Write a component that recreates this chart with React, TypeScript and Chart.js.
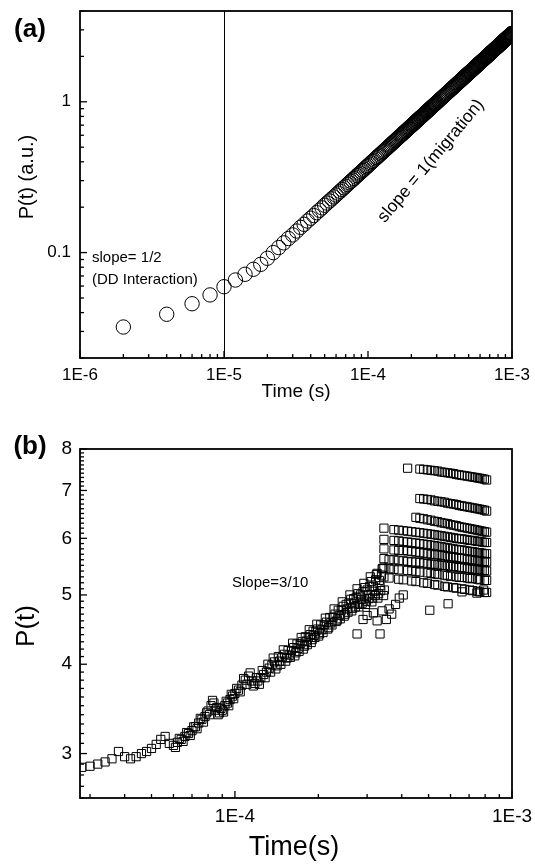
import React, { useEffect, useRef } from 'react';
import { Chart, registerables } from 'chart.js';

Chart.register(...registerables);

const FAMILY = "'Liberation Sans', Arial, Helvetica, sans-serif";

// ---------------- Panel (a) data: [time (µs), P(t) (a.u.)] ----------------
const panelA: [number, number][] = [
  [2, 0.0321], [4, 0.039], [6, 0.0458], [8, 0.0524], [10, 0.0594], [12, 0.0658], [14, 0.0718], [16, 0.0775], [18, 0.0836], [20, 0.0917],
  [22, 0.1], [24, 0.108], [26, 0.116], [28, 0.124], [30, 0.131], [32, 0.139], [34, 0.147], [36, 0.154], [38, 0.162], [40, 0.169],
  [42, 0.176], [44, 0.184], [46, 0.191], [48, 0.198], [50, 0.206], [52, 0.213], [54, 0.22], [56, 0.227], [58, 0.234], [60, 0.241],
  [62, 0.248], [64, 0.255], [66, 0.262], [68, 0.269], [70, 0.276], [72, 0.283], [74, 0.29], [76, 0.297], [78, 0.303], [80, 0.31],
  [82, 0.317], [84, 0.324], [86, 0.331], [88, 0.337], [90, 0.344], [92, 0.351], [94, 0.357], [96, 0.364], [98, 0.371], [100, 0.377],
  [105, 0.394], [110, 0.41], [115, 0.427], [120, 0.443], [125, 0.459], [130, 0.475], [135, 0.491], [140, 0.507], [145, 0.523], [150, 0.539],
  [155, 0.554], [160, 0.57], [165, 0.586], [170, 0.601], [175, 0.616], [180, 0.632], [185, 0.647], [190, 0.663], [195, 0.678], [200, 0.693],
  [205, 0.708], [210, 0.723], [215, 0.739], [220, 0.754], [225, 0.769], [230, 0.784], [235, 0.798], [240, 0.813], [245, 0.828], [250, 0.843],
  [255, 0.858], [260, 0.872], [265, 0.887], [270, 0.902], [275, 0.916], [280, 0.931], [285, 0.946], [290, 0.96], [295, 0.975], [300, 0.989],
  [310, 1.018], [320, 1.047], [330, 1.075], [340, 1.104], [350, 1.132], [360, 1.161], [370, 1.189], [380, 1.217], [390, 1.245], [400, 1.273],
  [410, 1.301], [420, 1.329], [430, 1.357], [440, 1.384], [450, 1.412], [460, 1.439], [470, 1.466], [480, 1.494], [490, 1.521], [500, 1.548],
  [510, 1.575], [520, 1.602], [530, 1.629], [540, 1.656], [550, 1.683], [560, 1.71], [570, 1.737], [580, 1.763], [590, 1.79], [600, 1.817],
  [610, 1.843], [620, 1.869], [630, 1.896], [640, 1.922], [650, 1.948], [660, 1.975], [670, 2.001], [680, 2.027], [690, 2.054], [700, 2.08],
  [710, 2.106], [720, 2.131], [730, 2.157], [740, 2.183], [750, 2.209], [760, 2.235], [770, 2.261], [780, 2.287], [790, 2.312], [800, 2.338],
  [810, 2.363], [820, 2.389], [830, 2.415], [840, 2.44], [850, 2.465], [860, 2.491], [870, 2.517], [880, 2.542], [890, 2.567], [900, 2.592],
  [910, 2.617], [920, 2.643], [930, 2.668], [940, 2.693], [950, 2.718], [960, 2.743], [970, 2.768], [980, 2.793], [990, 2.818], [1000, 2.843],
];
// the densely packed part of the curve (circles in between the ones above)
const panelADense: [number, number][] = [
  [102.5, 0.386], [107.5, 0.402], [112.5, 0.419], [117.5, 0.435], [122.5, 0.451], [127.5, 0.467], [132.5, 0.483], [137.5, 0.499], [142.5, 0.515], [147.5, 0.531],
  [152.5, 0.547], [157.5, 0.562], [162.5, 0.578], [167.5, 0.594], [172.5, 0.609], [177.5, 0.624], [182.5, 0.64], [187.5, 0.655], [192.5, 0.671], [197.5, 0.686],
  [202.5, 0.701], [207.5, 0.716], [212.5, 0.731], [217.5, 0.747], [222.5, 0.762], [227.5, 0.777], [232.5, 0.791], [237.5, 0.806], [242.5, 0.821], [247.5, 0.836],
  [252.5, 0.851], [257.5, 0.865], [262.5, 0.88], [267.5, 0.895], [272.5, 0.909], [277.5, 0.924], [282.5, 0.939], [287.5, 0.953], [292.5, 0.968], [297.5, 0.982],
  [305, 1.003], [315, 1.033], [325, 1.061], [335, 1.09], [345, 1.118], [355, 1.147], [365, 1.175], [375, 1.203], [385, 1.231], [395, 1.259],
  [405, 1.287], [415, 1.315], [425, 1.343], [435, 1.371], [445, 1.398], [455, 1.426], [465, 1.453], [475, 1.48], [485, 1.508], [495, 1.535],
  [505, 1.562], [515, 1.589], [525, 1.616], [535, 1.643], [545, 1.67], [555, 1.697], [565, 1.724], [575, 1.75], [585, 1.777], [595, 1.804],
  [605, 1.83], [615, 1.856], [625, 1.883], [635, 1.909], [645, 1.935], [655, 1.962], [665, 1.988], [675, 2.014], [685, 2.041], [695, 2.067],
  [705, 2.093], [715, 2.119], [725, 2.144], [735, 2.17], [745, 2.196], [755, 2.222], [765, 2.248], [775, 2.274], [785, 2.3], [795, 2.325],
  [805, 2.351], [815, 2.376], [825, 2.402], [835, 2.428], [845, 2.453], [855, 2.478], [865, 2.504], [875, 2.53], [885, 2.555], [895, 2.58],
  [905, 2.605], [915, 2.63], [925, 2.656], [935, 2.681], [945, 2.706], [955, 2.731], [965, 2.756], [975, 2.781], [985, 2.806], [995, 2.831],
];
const xTickValuesA = [1e-6, 1e-5, 1e-4, 1e-3];
const xTickLabelsA = ['1E-6', '1E-5', '1E-4', '1E-3'];
const yTickValuesA = [0.1, 1];
const yTickLabelsA = ['0.1', '1'];
const markerTimeA = 1e-5;

// ---------------- Panel (b) data: [time (µs), P(t)] ----------------
const panelBMain: [number, number][] = [
  [28, 2.87], [30, 2.88], [32, 2.9], [34, 2.92], [36, 2.95], [38, 3.02], [40, 2.97], [42, 2.95], [44, 2.97], [46, 3.0],
  [48, 3.02], [50, 3.05], [52, 3.09], [54, 3.14], [56, 3.17], [58, 3.1], [60, 3.08], [62, 3.11], [64, 3.14], [66, 3.17],
  [68, 3.2], [70, 3.23], [72, 3.27], [74, 3.31], [76, 3.35], [78, 3.38], [80, 3.44], [82, 3.5], [84, 3.53], [86, 3.48],
  [88, 3.42], [90, 3.45], [92, 3.5], [94, 3.53], [96, 3.57], [98, 3.61], [100, 3.64],
  [103, 3.68], [106, 3.74], [109, 3.8], [112, 3.85], [115, 3.79], [118, 3.76], [121, 3.79], [124, 3.83], [127, 3.87], [130, 3.9],
  [133, 3.95], [136, 3.99], [139, 4.03], [142, 3.98], [145, 4.04], [148, 4.09], [151, 4.13], [154, 4.08], [157, 4.12], [160, 4.18],
  [163, 4.22], [166, 4.15], [169, 4.21], [172, 4.27], [175, 4.3], [178, 4.24], [181, 4.31], [184, 4.36], [187, 4.4], [190, 4.33],
  [193, 4.39], [196, 4.45], [199, 4.48], [202, 4.41],
  [206, 4.47], [210, 4.54], [214, 4.58], [218, 4.5], [222, 4.57], [226, 4.65], [230, 4.7], [234, 4.61], [238, 4.68], [242, 4.76],
  [246, 4.82], [250, 4.7], [254, 4.78], [258, 4.87], [262, 4.93], [266, 4.79], [270, 4.86], [274, 4.96], [278, 5.02], [282, 4.85],
  [286, 4.93], [290, 5.05], [294, 5.12], [298, 4.9], [302, 5.0], [306, 5.14], [310, 5.22], [314, 4.95], [318, 5.06], [322, 5.25],
  [326, 5.36], [330, 5.02], [334, 5.15], [338, 5.33], [342, 5.45], [346, 5.08],
];
const panelBInterleaved: [number, number][] = [
  [61, 3.06], [63, 3.15], [65, 3.12], [67, 3.21], [69, 3.18], [71, 3.27], [73, 3.25], [75, 3.36], [77, 3.32], [79, 3.42],
  [81, 3.4], [83, 3.56], [85, 3.45], [87, 3.4], [89, 3.47], [91, 3.43], [93, 3.55], [95, 3.5], [97, 3.63], [99, 3.58],
  [101.5, 3.7], [104.5, 3.66], [107.5, 3.82], [110.5, 3.75], [113.5, 3.89], [116.5, 3.73], [119.5, 3.83], [122.5, 3.75], [125.5, 3.92], [128.5, 3.83],
  [131.5, 4.0], [134.5, 3.9], [137.5, 4.08], [140.5, 3.94], [143.5, 4.1], [146.5, 4.0], [149.5, 4.19], [152.5, 4.04], [155.5, 4.18], [158.5, 4.09],
  [161.5, 4.28], [164.5, 4.11], [167.5, 4.27], [170.5, 4.17], [173.5, 4.36], [176.5, 4.2], [179.5, 4.37], [182.5, 4.26], [185.5, 4.47], [188.5, 4.29],
  [191.5, 4.45], [194.5, 4.36], [197.5, 4.55], [200.5, 4.38],
  [204, 4.54], [208, 4.43], [212, 4.64], [216, 4.48], [220, 4.65], [224, 4.54], [228, 4.78], [232, 4.59], [236, 4.76], [240, 4.63],
  [244, 4.89], [248, 4.67], [252, 4.85], [256, 4.73], [260, 5.0], [264, 4.75], [268, 4.94], [272, 4.81], [276, 5.1], [280, 4.81],
  [284, 5.0], [288, 4.87], [292, 5.19], [296, 4.85], [300, 5.08], [304, 4.94], [308, 5.3], [312, 4.89], [316, 5.14], [320, 4.99],
  [324, 5.34], [328, 4.95], [332, 5.24], [336, 5.07], [340, 5.44], [344, 4.99],
];
const bandTimesB = [345, 360, 375, 390, 405, 420, 435, 450, 465, 480, 495, 510, 525, 540, 555, 570, 585, 600, 615, 630, 645, 660, 675, 690, 705, 720, 735, 750, 765, 780, 795, 810];
const bandA = [null, null, null, null, null, 7.52, null, null, 7.5, 7.49, 7.48, 7.47, 7.46, 7.45, 7.43, 7.42, 7.41, 7.4, 7.39, 7.37, 7.36, 7.35, 7.34, 7.33, 7.32, 7.31, 7.3, 7.29, 7.28, 7.27, 7.26, 7.24];
const bandB = [null, null, null, null, null, null, null, null, 6.82, 6.81, 6.8, 6.79, 6.77, 6.76, 6.75, 6.74, 6.72, 6.71, 6.7, 6.69, 6.67, 6.66, 6.65, 6.64, 6.63, 6.62, 6.61, 6.6, 6.59, 6.58, 6.57, 6.55];
const bandC = [null, null, null, null, null, null, null, 6.42, 6.4, 6.39, 6.37, 6.36, 6.34, 6.33, 6.31, 6.3, 6.29, 6.27, 6.26, 6.25, 6.23, 6.22, 6.21, 6.2, 6.19, 6.18, 6.17, 6.16, 6.15, 6.14, 6.13, 6.12];
const bandD = [6.2, null, 6.17, 6.16, 6.15, 6.14, 6.13, 6.12, 6.11, 6.1, 6.09, 6.08, 6.07, 6.06, 6.05, 6.04, 6.03, 6.02, 6.01, 6.0, 5.99, 5.99, 5.98, 5.97, 5.96, 5.96, 5.95, 5.94, 5.94, 5.93, 5.92, 5.92];
const bandE = [5.98, null, 5.96, 5.95, 5.94, 5.93, 5.92, 5.91, 5.9, 5.89, 5.88, 5.87, 5.86, 5.85, 5.84, 5.83, 5.82, 5.81, 5.8, 5.79, 5.78, 5.78, 5.77, 5.76, 5.75, 5.75, 5.74, 5.73, 5.73, 5.72, 5.71, 5.71];
const bandF = [5.8, null, 5.78, 5.77, 5.77, 5.76, 5.75, 5.74, 5.73, 5.72, 5.71, 5.7, 5.69, 5.69, 5.68, 5.67, 5.66, 5.65, 5.65, 5.64, 5.63, 5.62, 5.62, 5.61, 5.6, 5.6, 5.59, 5.58, 5.58, 5.57, 5.57, 5.56];
const bandG = [5.62, 5.6, 5.6, 5.59, 5.58, 5.57, 5.56, 5.56, 5.55, 5.54, 5.53, 5.52, 5.52, 5.51, 5.5, 5.5, 5.49, 5.48, 5.48, 5.47, 5.46, 5.46, 5.45, 5.44, 5.44, 5.43, 5.43, 5.42, 5.42, 5.41, 5.41, 5.4];
const bandH = [5.45, 5.44, 5.43, 5.42, null, 5.41, 5.4, 5.39, 5.38, null, 5.37, 5.36, 5.35, 5.34, null, 5.33, 5.32, 5.31, null, 5.3, 5.29, 5.29, null, 5.28, 5.27, 5.27, null, 5.26, 5.25, null, 5.24, 5.24];
const bandI = [5.3, 5.28, null, 5.26, 5.25, null, 5.23, 5.22, null, 5.2, 5.19, null, 5.17, 5.16, null, 5.14, 5.13, null, 5.12, 5.11, null, 5.1, 5.09, null, 5.08, 5.07, null, 5.06, 5.05, null, 5.04, 5.04];
const panelBLow: [number, number][] = [
  [276, 4.41], [290, 4.62], [300, 4.68], [316, 4.72], [326, 4.6], [334, 4.41], [340, 4.75], [352, 4.62], [360, 4.78], [368, 4.7],
  [380, 4.85], [392, 4.95], [405, 5.0], [505, 4.76], [588, 4.86], [660, 5.05], [747, 5.03], [790, 5.08],
];
const xTickValuesB = [1e-4, 1e-3];
const xTickLabelsB = ['1E-4', '1E-3'];
const yTickValuesB = [3, 4, 5, 6, 7, 8];
const yTickLabelsB = ['3', '4', '5', '6', '7', '8'];

// ---------------- helpers ----------------
function logMinors(min: number, max: number): number[] {
  const out: number[] = [];
  for (let e = Math.floor(Math.log10(min)) - 1; e <= Math.ceil(Math.log10(max)); e++) {
    for (let m = 2; m <= 9; m++) {
      const v = m * Math.pow(10, e);
      if (v >= min * 0.9999 && v <= max * 1.0001) out.push(v);
    }
  }
  return out;
}
function linearMinors(min: number, max: number, step10: number): number[] {
  const out: number[] = [];
  for (let k = Math.ceil(min * step10); k <= Math.floor(max * step10); k++) {
    if (k % step10 !== 0) out.push(k / step10);
  }
  return out;
}

type TextItem = {
  text: string; x: number; y: number; size: number; bold?: boolean;
  align?: CanvasTextAlign; rotate?: number;
};
type Deco = {
  xMajor: number[]; xMinor: number[]; yMajor: number[]; yMinor: number[];
  vLines?: number[]; texts: TextItem[];
};

function decoPlugin(d: Deco) {
  return {
    id: 'deco',
    afterDatasetsDraw(chart: any) {
      const { ctx, chartArea: a, scales } = chart;
      const xs = scales.x, ys = scales.y;
      ctx.save();
      ctx.strokeStyle = '#000';
      ctx.lineCap = 'butt';
      if (d.vLines) {
        ctx.lineWidth = 1;
        d.vLines.forEach((v) => {
          const px = Math.round(xs.getPixelForValue(v)) + 0.5;
          ctx.beginPath(); ctx.moveTo(px, a.top); ctx.lineTo(px, a.bottom); ctx.stroke();
        });
      }
      ctx.lineWidth = 1.3;
      const xt = (v: number, len: number) => {
        const px = xs.getPixelForValue(v);
        if (px < a.left - 0.5 || px > a.right + 0.5) return;
        ctx.beginPath(); ctx.moveTo(px, a.bottom); ctx.lineTo(px, a.bottom - len); ctx.stroke();
      };
      const yt = (v: number, len: number) => {
        const py = ys.getPixelForValue(v);
        if (py < a.top - 0.5 || py > a.bottom + 0.5) return;
        ctx.beginPath(); ctx.moveTo(a.left, py); ctx.lineTo(a.left + len, py); ctx.stroke();
      };
      d.xMinor.forEach((v) => xt(v, 4));
      d.xMajor.forEach((v) => xt(v, 7));
      d.yMinor.forEach((v) => yt(v, 4));
      d.yMajor.forEach((v) => yt(v, 7));
      ctx.lineWidth = 1.8;
      ctx.strokeRect(a.left, a.top, a.right - a.left, a.bottom - a.top);
      ctx.fillStyle = '#000';
      d.texts.forEach((t) => {
        ctx.save();
        ctx.font = `${t.bold ? 'bold ' : ''}${t.size}px ${FAMILY}`;
        ctx.textAlign = t.align || 'center';
        ctx.textBaseline = 'middle';
        ctx.translate(t.x, t.y);
        if (t.rotate) ctx.rotate(t.rotate);
        ctx.fillText(t.text, 0, 0);
        ctx.restore();
      });
      ctx.restore();
    },
  };
}

function logAxis(min: number, max: number, values: number[], labels: string[], size: number, pad: number, fit: (s: any) => void) {
  return {
    type: 'logarithmic' as const,
    min, max,
    grid: { display: false, drawTicks: false },
    border: { display: false },
    afterBuildTicks: (s: any) => { s.ticks = values.map((v) => ({ value: v })); },
    afterFit: (s: any) => {
      fit(s);
      s.paddingLeft = 0; s.paddingRight = 0; s.paddingTop = 0; s.paddingBottom = 0;
    },
    ticks: {
      autoSkip: false, maxRotation: 0, minRotation: 0, padding: pad, color: '#000',
      font: { family: FAMILY, size },
      callback: (_v: any, i: number) => labels[i],
    },
  };
}

const circleStyle = {
  pointStyle: 'circle' as const, pointRadius: 7.2, borderWidth: 1,
  borderColor: '#000', backgroundColor: 'rgba(0,0,0,0)', showLine: false,
};
const squareStyle = {
  pointStyle: 'rect' as const, pointRadius: 5.8, borderWidth: 1,
  borderColor: '#000', backgroundColor: 'rgba(0,0,0,0)', showLine: false,
};

const toXY = (pairs: [number, number][]) => pairs.map(([t, p]) => ({ x: t * 1e-6, y: p }));

function configA(): any {
  return {
    type: 'scatter',
    data: {
      datasets: [
        { ...circleStyle, data: toXY(panelA) },
        { ...circleStyle, data: toXY(panelADense) },
      ],
    },
    options: {
      animation: false, responsive: false, devicePixelRatio: 1,
      layout: { padding: { left: 0, top: 11, right: 23, bottom: 0 } },
      plugins: { legend: { display: false }, tooltip: { enabled: false } },
      scales: {
        x: { ...logAxis(1e-6, 1e-3, xTickValuesA, xTickLabelsA, 17, 7, (s: any) => { s.height = 62; }), position: 'bottom' },
        y: { ...logAxis(0.02, 4, yTickValuesA, yTickLabelsA, 17, 9, (s: any) => { s.width = 80; }), position: 'left' },
      },
    },
    plugins: [decoPlugin({
      xMajor: xTickValuesA, xMinor: logMinors(1e-6, 1e-3),
      yMajor: yTickValuesA, yMinor: logMinors(0.02, 4),
      vLines: [markerTimeA],
      texts: [
        { text: '(a)', x: 30, y: 30, size: 26, bold: true },
        { text: 'P(t) (a.u.)', x: 27, y: 177, size: 20, rotate: -Math.PI / 2 },
        { text: 'Time (s)', x: 296, y: 392, size: 19 },
        { text: 'slope= 1/2', x: 92, y: 258, size: 15, align: 'left' },
        { text: '(DD Interaction)', x: 92, y: 280, size: 15, align: 'left' },
        { text: 'slope = 1(migration)', x: 431, y: 161, size: 17.5, rotate: -50 * Math.PI / 180 },
      ],
    })],
  };
}

function bandData(vals: (number | null)[]) {
  const out: { x: number; y: number }[] = [];
  vals.forEach((v, i) => { if (v !== null && i < bandTimesB.length) out.push({ x: bandTimesB[i] * 1e-6, y: v }); });
  return out;
}

function configB(): any {
  const bands = [bandA, bandB, bandC, bandD, bandE, bandF, bandG, bandH, bandI];
  return {
    type: 'scatter',
    data: {
      datasets: [
        { ...squareStyle, data: toXY(panelBMain) },
        { ...squareStyle, data: toXY(panelBInterleaved) },
        ...bands.map((b) => ({ ...squareStyle, data: bandData(b) })),
        { ...squareStyle, data: toXY(panelBLow) },
      ],
    },
    options: {
      animation: false, responsive: false, devicePixelRatio: 1,
      layout: { padding: { left: 0, top: 29, right: 23, bottom: 0 } },
      plugins: { legend: { display: false }, tooltip: { enabled: false } },
      scales: {
        x: { ...logAxis(2.76e-5, 1e-3, xTickValuesB, xTickLabelsB, 19, 7, (s: any) => { s.height = 69; }), position: 'bottom' },
        y: { ...logAxis(2.6, 8, yTickValuesB, yTickLabelsB, 19, 8, (s: any) => { s.width = 80; }), position: 'left' },
      },
    },
    plugins: [decoPlugin({
      xMajor: xTickValuesB, xMinor: logMinors(2.76e-5, 1e-3),
      yMajor: yTickValuesB, yMinor: linearMinors(2.6, 8, 10),
      texts: [
        { text: '(b)', x: 30, y: 27, size: 26, bold: true },
        { text: 'P(t)', x: 27, y: 206, size: 26, rotate: -Math.PI / 2 },
        { text: 'Time(s)', x: 294, y: 428, size: 27 },
        { text: 'Slope=3/10', x: 232, y: 163, size: 15, align: 'left' },
      ],
    })],
  };
}

export default function App() {
  const refA = useRef<HTMLCanvasElement>(null);
  const refB = useRef<HTMLCanvasElement>(null);
  useEffect(() => {
    const ca = new Chart(refA.current as HTMLCanvasElement, configA());
    const cb = new Chart(refB.current as HTMLCanvasElement, configB());
    return () => { ca.destroy(); cb.destroy(); };
  }, []);
  return (
    <div style={{ position: 'absolute', left: 0, top: 0, width: 535, height: 867, background: '#fff' }}>
      <canvas ref={refA} width={535} height={420} style={{ position: 'absolute', left: 0, top: 0, width: 535, height: 420 }} />
      <canvas ref={refB} width={535} height={447} style={{ position: 'absolute', left: 0, top: 420, width: 535, height: 447 }} />
    </div>
  );
}
